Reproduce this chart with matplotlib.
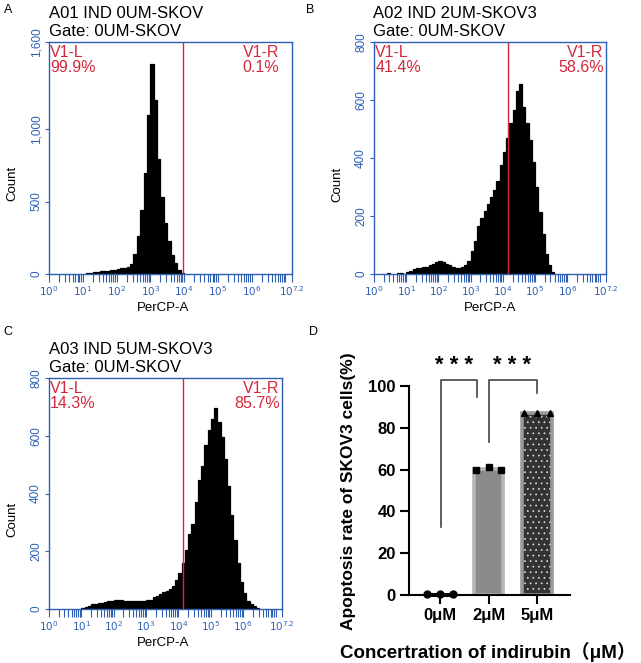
import matplotlib.pyplot as plt
import numpy as np

plt.rcParams['font.family'] = ['Liberation Sans', 'Noto Sans CJK SC', 'DejaVu Sans']
plt.rcParams['hatch.linewidth'] = 0.5

W, H = 641, 663
BLUE = '#2f5fb5'
RED = '#d2283c'

# flow histograms: start of each log10 bin (width 0.1) and the count in it
a_bins = [1.1, 1.2, 1.3, 1.4, 1.5, 1.6, 1.7, 1.8, 1.9, 2.0, 2.1, 2.2, 2.3, 2.4, 2.5,
          2.6, 2.7, 2.8, 2.9, 3.0, 3.1, 3.2, 3.3, 3.4, 3.5, 3.6, 3.7, 3.8, 3.9]
a_counts = [8, 10, 12, 15, 18, 20, 22, 25, 28, 32, 38, 42, 50, 70, 140,
            260, 440, 700, 1100, 1446, 1200, 790, 530, 350, 225, 130, 75, 30, 10]
a_zero = 65

b_bins = [0.4, 0.7, 0.8, 1.0, 1.1, 1.2, 1.3, 1.4, 1.5, 1.6, 1.7, 1.8, 1.9, 2.0, 2.1,
          2.2, 2.3, 2.4, 2.5, 2.6, 2.7, 2.8, 2.9, 3.0, 3.1, 3.2, 3.3, 3.4, 3.5, 3.6,
          3.7, 3.8, 3.9, 4.0, 4.1, 4.2, 4.3, 4.4, 4.5, 4.6, 4.7, 4.8, 4.9, 5.0, 5.1,
          5.2, 5.3, 5.4, 5.5]
b_counts = [4, 5, 4, 8, 12, 16, 20, 22, 24, 25, 30, 36, 42, 46, 42,
            36, 30, 24, 22, 20, 24, 30, 45, 78, 115, 166, 194, 217, 242, 267,
            289, 320, 375, 421, 469, 521, 566, 630, 655, 575, 520, 462, 387, 300, 215,
            138, 68, 30, 6]
b_zero = 34

c_bins = [1.0, 1.1, 1.2, 1.3, 1.4, 1.5, 1.6, 1.7, 1.8, 1.9, 2.0, 2.1, 2.2, 2.3, 2.4,
          2.5, 2.6, 2.7, 2.8, 2.9, 3.0, 3.1, 3.2, 3.3, 3.4, 3.5, 3.6, 3.7, 3.8, 3.9,
          4.0, 4.1, 4.2, 4.3, 4.4, 4.5, 4.6, 4.7, 4.8, 4.9, 5.0, 5.1, 5.2, 5.3, 5.4,
          5.5, 5.6, 5.7, 5.8, 5.9, 6.0, 6.1, 6.2, 6.3, 6.4]
c_counts = [5, 8, 12, 16, 18, 20, 22, 24, 26, 28, 30, 31, 30, 28, 27,
            26, 26, 26, 27, 28, 30, 32, 40, 46, 52, 60, 64, 68, 78, 100,
            125, 159, 204, 260, 294, 370, 447, 495, 569, 620, 659, 697, 646, 597, 518,
            427, 326, 239, 159, 93, 54, 28, 17, 10, 3]
c_zero = 134

# apoptosis bar chart
conc_labels = ['0μM', '2μM', '5μM']
rep_0 = [0.5, 0.4, 0.5]
rep_2 = [60.0, 61.3, 60.0]
rep_5 = [86.9, 87.3, 87.0]

fig = plt.figure(figsize=(6.41, 6.63), dpi=100)


def px_axes(left, top, right, bottom):
    return fig.add_axes([left / W, 1 - bottom / H, (right - left) / W, (bottom - top) / H])


def fig_text(x, y, s, **kw):
    fig.text(x / W, 1 - y / H, s, **kw)


def draw_hist(ax, bins, counts, zero, ymax, yticks, ylabels, gate, pcts, right_x):
    ax.bar(bins, counts, width=0.1, align='edge', color='black', edgecolor='black', linewidth=0.9)
    ax.bar(0, zero, width=0.035, align='edge', color='black', linewidth=0)
    ax.axvline(gate, color=RED, lw=1)
    ax.set_xlim(0, 7.2)
    ax.set_ylim(0, ymax)
    for s in ax.spines.values():
        s.set_color(BLUE)
        s.set_linewidth(1)
    ax.set_xticks([0, 1, 2, 3, 4, 5, 6, 7.2])
    ax.set_xticklabels([r'$10^{%s}$' % t for t in ['0', '1', '2', '3', '4', '5', '6', '7.2']])
    ax.set_xticks([d + np.log10(k) for d in range(7) for k in range(2, 10)] + [7.0], minor=True)
    ax.tick_params(axis='x', which='both', direction='out', length=6, width=0.8,
                   colors=BLUE, labelsize=7.5, pad=1)
    ax.set_yticks(yticks)
    ax.set_yticklabels(ylabels, rotation=90, va='center')
    ax.tick_params(axis='y', direction='out', length=3, width=0.8, colors=BLUE,
                   labelsize=8.5, pad=2)
    kw = dict(transform=ax.transAxes, color=RED, fontsize=11.5, va='center')
    ax.text(0.005, 0.955, 'V1-L', **kw)
    ax.text(0.005, 0.888, pcts[0], **kw)
    ax.text(right_x, 0.955, 'V1-R', ha='right', **kw)
    ax.text(right_x, 0.888, pcts[1], ha='right', **kw)


# panel A
ax_a = px_axes(49, 42, 292, 274)
draw_hist(ax_a, a_bins, a_counts, a_zero, 1600, [0, 500, 1000, 1600],
          ['0', '500', '1,000', '1,600'], 3.98, ['99.9%', '0.1%'], 0.946)
# panel B
ax_b = px_axes(374, 42, 606, 274)
draw_hist(ax_b, b_bins, b_counts, b_zero, 800, [0, 200, 400, 600, 800],
          ['0', '200', '400', '600', '800'], 4.17, ['41.4%', '58.6%'], 0.99)
# panel C
ax_c = px_axes(49, 378, 282, 609)
draw_hist(ax_c, c_bins, c_counts, c_zero, 800, [0, 200, 400, 600, 800],
          ['0', '200', '400', '600', '800'], 4.15, ['14.3%', '85.7%'], 0.99)

for x, y, t in [(49, 14, 'A01 IND 0UM-SKOV'), (373, 14, 'A02 IND 2UM-SKOV3'),
                (49, 350, 'A03 IND 5UM-SKOV3')]:
    fig_text(x, y, t, fontsize=12, va='center')
    fig_text(x, y + 18, 'Gate: 0UM-SKOV', fontsize=12, va='center')

for x, y in [(12, 183), (337, 184), (12, 519)]:
    fig_text(x, y, 'Count', fontsize=9.5, rotation=90, ha='center', va='center')
for x, y in [(163, 308), (490, 308), (163, 643)]:
    fig_text(x, y, 'PerCP-A', fontsize=9.5, ha='center', va='center')

for x, y, t in [(8, 10, 'A'), (310, 10, 'B'), (8, 332, 'C'), (313, 332, 'D')]:
    fig_text(x, y, t, fontsize=9, ha='center', va='center')

# panel D
ax_d = px_axes(409, 350, 570, 595)
xs = np.arange(len(conc_labels))
reps = [rep_0, rep_2, rep_5]
means = [np.mean(r) for r in reps]
ax_d.bar(xs[0], means[0], width=0.52, color='black', edgecolor='black', linewidth=2.2,
         clip_on=False)
ax_d.bar(xs[1], means[1], width=0.6, color='#8a8a8a', edgecolor='#b5b5b5', linewidth=2.6)
ax_d.bar(xs[2], means[2], width=0.6, color='#333333', edgecolor='#e0e0e0', hatch='...',
         linewidth=0)
ax_d.bar(xs[2], means[2], width=0.6, fill=False, edgecolor='#9a9a9a', linewidth=2.6)
offs = [-0.26, 0, 0.26]
ax_d.plot(xs[0] + np.array(offs), rep_0, 'o', color='black', ms=5, clip_on=False, zorder=5)
ax_d.plot(xs[1] + np.array(offs), rep_2, 's', color='black', ms=5, zorder=5)
ax_d.plot(xs[2] + np.array(offs), rep_5, '^', color='black', ms=5, zorder=5)

ax_d.set_xlim(-0.64, 2.68)
ax_d.set_ylim(0, 117.2)
ax_d.spines['top'].set_visible(False)
ax_d.spines['right'].set_visible(False)
ax_d.spines['left'].set_bounds(0, 100)
for s in ['left', 'bottom']:
    ax_d.spines[s].set_linewidth(1.5)
ax_d.set_yticks([0, 20, 40, 60, 80, 100])
ax_d.set_xticks(xs)
ax_d.set_xticklabels(conc_labels)
ax_d.tick_params(length=6.5, width=1.5, labelsize=12, pad=3)
for lab in ax_d.get_xticklabels() + ax_d.get_yticklabels():
    lab.set_fontweight('bold')

# significance brackets
ax_d.plot([0.02, 0.02, 0.76, 0.76], [32.7, 102.9, 102.9, 94.9], color='#444444', lw=1.2,
          clip_on=False)
ax_d.plot([1.01, 1.01, 1.99, 1.99], [73.3, 102.9, 102.9, 96.8], color='#444444', lw=1.2,
          clip_on=False)
ax_d.text(0.28, 109.6, '* * *', fontsize=16, fontweight='bold', ha='center', va='center')
ax_d.text(1.48, 109.6, '* * *', fontsize=16, fontweight='bold', ha='center', va='center')

fig_text(348, 491, 'Apoptosis rate of SKOV3 cells(%)', fontsize=12.5, fontweight='bold',
         rotation=90, ha='center', va='center')
fig_text(488, 652, 'Concertration of indirubin（μM）', fontsize=13.5, fontweight='bold',
         ha='center', va='center')

fig.savefig('out.png', dpi=100)
